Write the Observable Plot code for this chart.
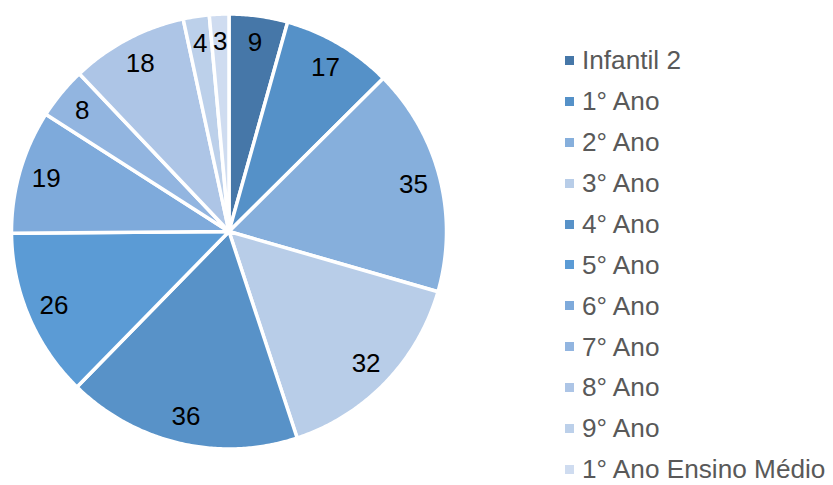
<!DOCTYPE html>
<html>
<head>
<meta charset="utf-8">
<script src="https://cdn.jsdelivr.net/npm/d3@7"></script>
<script src="https://cdn.jsdelivr.net/npm/@observablehq/plot@0.6"></script>
<style>
  body { margin: 0; background: #fff; }
  #wrap { position: relative; width: 833px; height: 485px; font-family: "Liberation Sans", Arial, sans-serif; overflow: hidden; }
  #legend { position: absolute; left: 565px; top: 40px; }
  .item { display: flex; align-items: center; height: 40.9px; font-size: 26.2px; line-height: 1; color: #595959; white-space: nowrap; }
  .sw { width: 9px; height: 9px; margin-right: 8px; flex: none; }
</style>
</head>
<body>
<div id="wrap"><div id="legend"></div></div>
<script>
const categories = ["Infantil 2", "1° Ano", "2° Ano", "3° Ano", "4° Ano", "5° Ano", "6° Ano", "7° Ano", "8° Ano", "9° Ano", "1° Ano Ensino Médio"];
const values = [9, 17, 35, 32, 36, 26, 19, 8, 18, 4, 3];
const colors = ["#4677a8", "#5591c8", "#86afdc", "#b8cde8", "#5892c8", "#5b9bd5", "#7eaadb", "#92b5e0", "#adc5e6", "#bcd0ea", "#cfdcf0"];

// layout (pixels)
const W = 833, H = 485, cx = 228.5, cy = 231, R = 217.5;

const arcs = d3.pie().sort(null).value(d => d)(values);
const pts = [];
const labels = [];
arcs.forEach((a, i) => {
  const name = categories[i];
  pts.push({name, x: 0, y: 0});
  const n = Math.max(2, Math.ceil((a.endAngle - a.startAngle) / (Math.PI / 360)) + 1);
  for (let k = 0; k < n; k++) {
    const t = a.startAngle + (a.endAngle - a.startAngle) * k / (n - 1);
    pts.push({name, x: Math.sin(t), y: Math.cos(t)});
  }
  const m = (a.startAngle + a.endAngle) / 2;
  labels.push({name, value: values[i], x: 0.875 * Math.sin(m), y: 0.875 * Math.cos(m)});
});

const chart = Plot.plot({
  width: W, height: H,
  marginTop: 0, marginRight: 0, marginBottom: 0, marginLeft: 0,
  x: {axis: null, domain: [-cx / R, (W - cx) / R], range: [0, W]},
  y: {axis: null, domain: [-(H - cy) / R, cy / R], range: [H, 0]},
  color: {domain: categories, range: colors},
  style: {background: "#fff"},
  marks: [
    Plot.line(pts, {x: "x", y: "y", z: "name", fill: "name", stroke: "white", strokeWidth: 3.5, strokeLinejoin: "round", curve: "linear-closed"}),
    Plot.text(labels, {x: "x", y: "y", text: d => String(d.value), fontSize: 26, fill: "#000", fontFamily: "Liberation Sans, Arial, sans-serif"})
  ]
});
document.getElementById("wrap").prepend(chart);

const legend = document.getElementById("legend");
categories.forEach((c, i) => {
  const it = document.createElement("div");
  it.className = "item";
  it.innerHTML = `<span class="sw" style="background:${colors[i]}"></span><span>${c}</span>`;
  legend.appendChild(it);
});
</script>
</body>
</html>
